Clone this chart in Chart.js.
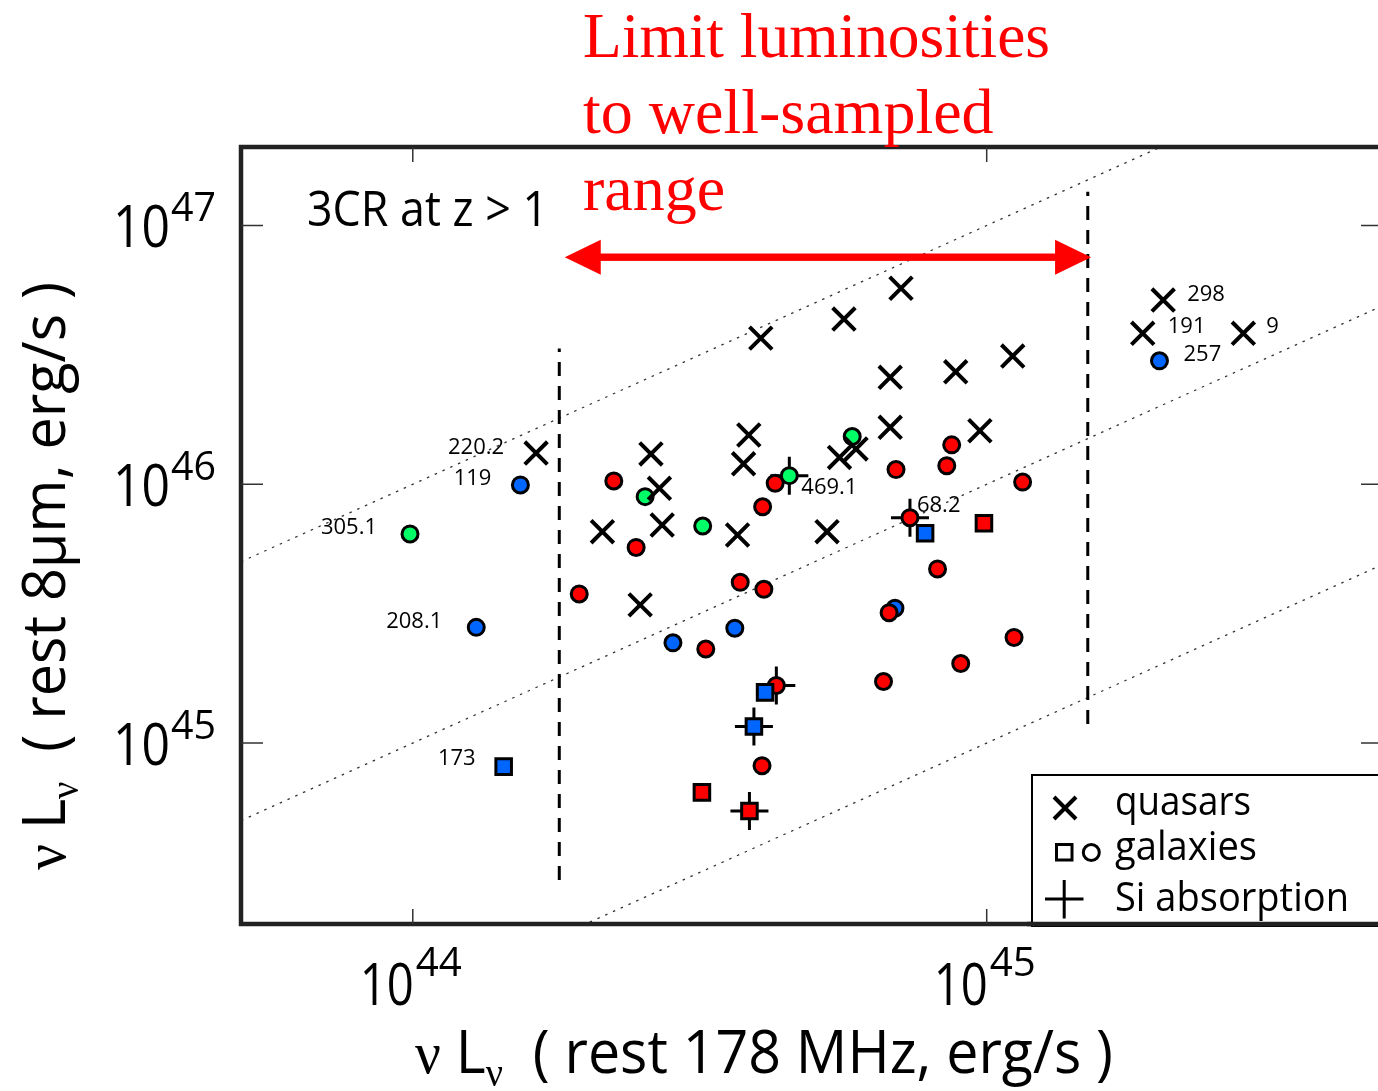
<!DOCTYPE html>
<html>
<head>
<meta charset="utf-8">
<title>3CR at z > 1</title>
<script src="https://cdn.jsdelivr.net/npm/chart.js@4.4.1/dist/chart.umd.min.js"></script>
<style>
  html, body { margin: 0; padding: 0; background: #fff; overflow: hidden; }
  #wrap { width: 1378px; height: 1091px; }
  canvas { display: block; }
</style>
</head>
<body>
<div id="wrap">
  <canvas id="lumChart" width="1378" height="1091" style="width:1378px;height:1091px"></canvas>
</div>
<script>
// ============================================
// 3CR z > 1 : 8um vs 178 MHz luminosity
// ============================================

// Axis ranges (erg/s); the right edge of the frame is cut by the figure
const X_MIN = 5.02e43, X_MAX = 4.806e45;
const Y_MIN = 2.0e44, Y_MAX = 2.01e47;
const X_TICKS = [1e44, 1e45];
const X_TICK_EXP = ['44', '45'];
const Y_TICKS = [1e45, 1e46, 1e47];
const Y_TICK_EXP = ['45', '46', '47'];

// Quasars (x)
const QUASAR_X = [1.64e44, 4.04e44, 5.64e44, 7.09e44, 6.79e44, 8.83e44, 1.11e45, 6.79e44, 9.73e44, 3.85e44, 2.60e44, 3.77e44,
  5.54e44, 5.92e44, 2.69e44, 2.14e44, 2.72e44, 3.68e44, 5.27e44, 2.49e44, 2.03e45, 1.87e45, 2.80e45];
const QUASAR_Y = [1.32e46, 3.67e46, 4.35e46, 5.72e46, 2.59e46, 2.72e46, 3.13e46, 1.66e46, 1.61e46, 1.55e46, 1.31e46, 1.20e46,
  1.27e46, 1.37e46, 9.65e45, 6.56e45, 6.96e45, 6.37e45, 6.56e45, 3.42e45, 5.15e46, 3.83e46, 3.83e46];

// Galaxies, circles
const RED_CIRCLE_X = [2.24e44, 1.95e44, 8.69e44, 8.52e44, 6.95e44, 1.155e45, 4.28e44, 4.07e44, 7.35e44, 2.45e44,
  3.72e44, 4.09e44, 3.24e44, 6.76e44, 8.21e44, 1.116e45, 9.01e44, 6.61e44, 4.30e44, 4.06e44];
const RED_CIRCLE_Y = [1.03e46, 3.77e45, 1.42e46, 1.18e46, 1.14e46, 1.02e46, 1.01e46, 8.19e45, 7.43e45, 5.70e45,
  4.18e45, 3.93e45, 2.31e45, 3.19e45, 4.71e45, 2.56e45, 2.03e45, 1.73e45, 1.67e45, 8.18e44];
const BLUE_CIRCLE_X = [1.54e44, 1.29e44, 2.00e45, 3.64e44, 2.84e44, 6.92e44];
const BLUE_CIRCLE_Y = [9.94e45, 2.80e45, 3.00e46, 2.78e45, 2.44e45, 3.32e45];
const GREEN_CIRCLE_X = [9.89e43, 5.83e44, 4.53e44, 2.54e44, 3.20e44];
const GREEN_CIRCLE_Y = [6.43e45, 1.53e46, 1.08e46, 8.96e45, 6.90e45];

// Galaxies, squares
const BLUE_SQUARE_X = [1.44e44, 7.81e44, 4.11e44, 3.93e44];
const BLUE_SQUARE_Y = [8.11e44, 6.47e45, 1.57e45, 1.16e45];
const RED_SQUARE_X = [9.89e44, 3.19e44, 3.86e44];
const RED_SQUARE_Y = [7.07e45, 6.45e44, 5.47e44];

// Si absorption (+)
const SI_ABS_X = [4.53e44, 7.35e44, 4.30e44, 3.93e44, 3.86e44];
const SI_ABS_Y = [1.08e46, 7.43e45, 1.67e45, 1.16e45, 5.47e44];

// Source names
const LABEL_TEXT = ['220.2', '119', '305.1', '208.1', '173', '469.1', '68.2', '298', '191', '9', '257'];
const LABEL_X = [1.64e44, 1.54e44, 9.89e43, 1.29e44, 1.44e44, 4.53e44, 7.35e44, 2.03e45, 1.87e45, 2.80e45, 2.00e45];
const LABEL_Y = [1.32e46, 9.94e45, 6.43e45, 2.80e45, 8.11e44, 1.08e46, 7.43e45, 5.15e46, 3.83e46, 3.83e46, 3.00e46];

// Constant ratio lines  L(8um) = k * L(178MHz)
const RATIOS = [100, 10, 1];

// Well-sampled range limits
const LIMIT_X = [1.80e44, 1.50e45];
const LIMIT_Y_LO = [2.96e44, 1.185e45];
const LIMIT_Y_HI = [3.35e46, 1.35e47];
const ARROW_X = [1.84e44, 1.52e45];
const ARROW_Y = 7.54e46;

// ---- styles ----
const SANS = '"Open Sans", "DejaVu Sans", sans-serif';
const SERIF = '"Liberation Serif", "Times New Roman", serif';
const RED = '#ff0000';
const BLUE = '#0066ff';
const GREEN = '#00ff66';
// label offsets in px: [dx, dy, align]
const LABEL_OFFSETS = [[-32, 1, 'right'], [-29, 0, 'right'], [-33, 0, 'right'], [-34, 1, 'right'], [-28, -2, 'right'],
  [12, 18, 'left'], [7, -6, 'left'], [24, 1, 'left'], [25, 0, 'left'], [23, 0, 'left'], [24, 0, 'left']];

const zip = (xs, ys) => xs.map((x, i) => ({ x, y: ys[i] }));

/**
 * Draw a row of text runs [text, font, dy], squeezed to a given width
 */
function drawRuns(ctx, runs, x, y, width, align) {
  let total = 0;
  const widths = runs.map(r => {
    ctx.font = r[1];
    const w = ctx.measureText(r[0]).width;
    total += w;
    return w;
  });
  const s = width ? width / total : 1;
  ctx.save();
  ctx.translate(align === 'right' ? x - total * s : x, y);
  ctx.scale(s, 1);
  ctx.textAlign = 'left';
  ctx.textBaseline = 'alphabetic';
  let cx = 0;
  runs.forEach((r, i) => {
    ctx.font = r[1];
    ctx.fillText(r[0], cx, r[2] || 0);
    cx += widths[i];
  });
  ctx.restore();
}

const decorations = {
  id: 'decorations',
  afterDatasetsDraw(chart) {
    const { ctx, chartArea: a, scales: { x, y } } = chart;
    const rightAxis = a.right + 5; // frame line lies just past the figure edge
    ctx.save();

    // red double arrow
    const ax0 = x.getPixelForValue(ARROW_X[0]);
    const ax1 = x.getPixelForValue(ARROW_X[1]);
    const ay = y.getPixelForValue(ARROW_Y);
    ctx.fillStyle = RED;
    ctx.fillRect(ax0 + 30, ay - 3.7, ax1 - ax0 - 60, 7.4);
    ctx.beginPath();
    ctx.moveTo(ax0, ay); ctx.lineTo(ax0 + 36, ay - 17.5); ctx.lineTo(ax0 + 36, ay + 17.5); ctx.closePath();
    ctx.moveTo(ax1, ay); ctx.lineTo(ax1 - 36, ay - 17.5); ctx.lineTo(ax1 - 36, ay + 17.5); ctx.closePath();
    ctx.fill();

    // frame
    ctx.strokeStyle = '#222';
    ctx.lineWidth = 4.5;
    ctx.beginPath();
    ctx.moveTo(rightAxis + 10, a.top); ctx.lineTo(a.left, a.top);
    ctx.lineTo(a.left, a.bottom); ctx.lineTo(rightAxis + 10, a.bottom);
    ctx.stroke();

    // inward ticks
    ctx.strokeStyle = '#333';
    ctx.lineWidth = 1.5;
    ctx.beginPath();
    X_TICKS.forEach(v => {
      const px = x.getPixelForValue(v);
      ctx.moveTo(px, a.bottom); ctx.lineTo(px, a.bottom - 15);
      ctx.moveTo(px, a.top); ctx.lineTo(px, a.top + 15);
    });
    Y_TICKS.forEach(v => {
      const py = y.getPixelForValue(v);
      ctx.moveTo(a.left, py); ctx.lineTo(a.left + 22, py);
      ctx.moveTo(rightAxis, py); ctx.lineTo(rightAxis - 22, py);
    });
    ctx.stroke();

    // tick labels 10^n
    ctx.fillStyle = '#000';
    X_TICKS.forEach((v, i) => {
      const px = x.getPixelForValue(v);
      drawRuns(ctx, [['10', `59px ${SANS}`]], px + 1, a.bottom + 81, 54, 'right');
      drawRuns(ctx, [[X_TICK_EXP[i], `41px ${SANS}`]], px + 3, a.bottom + 52, 46);
    });
    Y_TICKS.forEach((v, i) => {
      const py = y.getPixelForValue(v);
      drawRuns(ctx, [['10', `59px ${SANS}`]], a.left - 71, py + 22, 57, 'right');
      drawRuns(ctx, [[Y_TICK_EXP[i], `41px ${SANS}`]], a.left - 70, py - 4, 45);
    });

    // axis titles
    drawRuns(ctx, [
      ['\u03bd', `60px ${SERIF}`], [' L', `60px ${SANS}`], ['\u03bd', `40px ${SERIF}`, 13],
      ['  ( rest 178 MHz, erg/s )', `60px ${SANS}`]
    ], 415, 1073, 698);
    ctx.save();
    ctx.translate(65, 870);
    ctx.rotate(-Math.PI / 2);
    drawRuns(ctx, [
      ['\u03bd', `60px ${SERIF}`], [' L', `60px ${SANS}`], ['\u03bd', `40px ${SERIF}`, 13],
      ['  ( rest 8\u03bcm, erg/s )', `60px ${SANS}`]
    ], 0, 0, 588);
    ctx.restore();

    // source names
    LABEL_TEXT.forEach((t, i) => {
      const [dx, dy, align] = LABEL_OFFSETS[i];
      const px = x.getPixelForValue(LABEL_X[i]) + dx;
      const py = y.getPixelForValue(LABEL_Y[i]) + dy;
      drawRuns(ctx, [[t, `22px ${SANS}`]], px, py, null, align);
    });

    // annotations
    drawRuns(ctx, [['3CR at z > 1', `49px ${SANS}`]], 307, 226, 241);
    ctx.fillStyle = RED;
    drawRuns(ctx, [['Limit luminosities', `64px ${SERIF}`]], 583, 57, 467);
    drawRuns(ctx, [['to well-sampled', `64px ${SERIF}`]], 583, 133);
    drawRuns(ctx, [['range', `64px ${SERIF}`]], 583, 210);

    // legend
    const lx = 1032, ly = 775;
    ctx.fillStyle = '#fff';
    ctx.fillRect(lx, ly, rightAxis + 10 - lx, a.bottom - ly);
    ctx.strokeStyle = '#000';
    ctx.lineWidth = 2;
    ctx.strokeRect(lx, ly, rightAxis + 10 - lx, a.bottom - ly + 2);
    ctx.lineWidth = 4;
    ctx.beginPath();
    ctx.moveTo(1054, 797); ctx.lineTo(1076, 819);
    ctx.moveTo(1076, 797); ctx.lineTo(1054, 819);
    ctx.stroke();
    ctx.lineWidth = 3;
    ctx.strokeRect(1056.5, 844.5, 15.5, 15.5);
    ctx.beginPath();
    ctx.arc(1091.3, 852.5, 8, 0, Math.PI * 2);
    ctx.stroke();
    ctx.beginPath();
    ctx.moveTo(1045, 899); ctx.lineTo(1083.5, 899);
    ctx.moveTo(1064.2, 880); ctx.lineTo(1064.2, 918.5);
    ctx.stroke();
    ctx.fillStyle = '#000';
    drawRuns(ctx, [['quasars', `41px ${SANS}`]], 1115, 815, 136);
    drawRuns(ctx, [['galaxies', `41px ${SANS}`]], 1115, 860, 142);
    drawRuns(ctx, [['Si absorption', `41px ${SANS}`]], 1115, 911, 234);

    // redraw the bottom frame over the legend box
    ctx.strokeStyle = '#222';
    ctx.lineWidth = 4.5;
    ctx.beginPath();
    ctx.moveTo(lx - 5, a.bottom); ctx.lineTo(rightAxis + 10, a.bottom);
    ctx.stroke();

    ctx.restore();
  }
};

function markerSet(label, xs, ys, style, order) {
  return Object.assign({ label, data: zip(xs, ys), order, pointBorderColor: '#000' }, style);
}

const datasets = [
  markerSet('quasars', QUASAR_X, QUASAR_Y,
    { pointStyle: 'crossRot', pointRadius: 16, pointBorderWidth: 4 }, 0),
  markerSet('red squares', RED_SQUARE_X, RED_SQUARE_Y,
    { pointStyle: 'rect', pointRadius: 11, pointBorderWidth: 3, pointBackgroundColor: RED }, 1),
  markerSet('blue squares', BLUE_SQUARE_X, BLUE_SQUARE_Y,
    { pointStyle: 'rect', pointRadius: 11, pointBorderWidth: 3, pointBackgroundColor: BLUE }, 2),
  markerSet('green circles', GREEN_CIRCLE_X, GREEN_CIRCLE_Y,
    { pointStyle: 'circle', pointRadius: 8, pointBorderWidth: 3, pointBackgroundColor: GREEN }, 3),
  markerSet('red circles', RED_CIRCLE_X, RED_CIRCLE_Y,
    { pointStyle: 'circle', pointRadius: 8, pointBorderWidth: 3, pointBackgroundColor: RED }, 4),
  markerSet('blue circles', BLUE_CIRCLE_X, BLUE_CIRCLE_Y,
    { pointStyle: 'circle', pointRadius: 8, pointBorderWidth: 3, pointBackgroundColor: BLUE }, 5),
  markerSet('Si absorption', SI_ABS_X, SI_ABS_Y,
    { pointStyle: 'cross', pointRadius: 19, pointBorderWidth: 3 }, 6)
];

// dashed limits of the well-sampled range
LIMIT_X.forEach((lim, i) => {
  datasets.push({
    label: 'limit ' + i,
    data: [{ x: lim, y: LIMIT_Y_LO[i] }, { x: lim, y: LIMIT_Y_HI[i] }],
    showLine: true, pointRadius: 0,
    borderColor: '#000', borderWidth: 3, borderDash: [14, 10],
    order: 7
  });
});

// dotted constant-ratio lines
RATIOS.forEach(k => {
  datasets.push({
    label: 'ratio ' + k,
    data: [{ x: X_MIN, y: k * X_MIN }, { x: X_MAX, y: k * X_MAX }],
    showLine: true, pointRadius: 0,
    borderColor: '#333', borderWidth: 1.3, borderDash: [2.5, 6],
    order: 8
  });
});

new Chart(document.getElementById('lumChart'), {
  type: 'scatter',
  data: { datasets },
  options: {
    responsive: false,
    animation: false,
    events: [],
    layout: { autoPadding: false, padding: { left: 241, top: 147, right: 0, bottom: 167 } },
    plugins: { legend: { display: false }, tooltip: { enabled: false } },
    scales: {
      x: { type: 'logarithmic', min: X_MIN, max: X_MAX, display: false },
      y: { type: 'logarithmic', min: Y_MIN, max: Y_MAX, display: false }
    }
  },
  plugins: [decorations]
});
</script>
</body>
</html>
